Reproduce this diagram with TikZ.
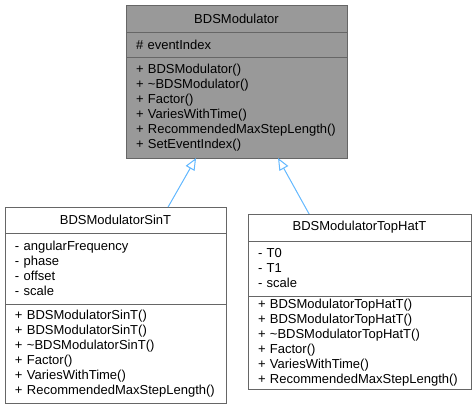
\documentclass[tikz,border=0pt]{standalone}
\usepackage{fontspec}
\setmainfont{Liberation Sans}
\usetikzlibrary{positioning,calc,arrows.meta}
\definecolor{edgegray}{HTML}{666666}
\definecolor{basefill}{HTML}{999999}
\definecolor{inheritblue}{HTML}{63B8FF}
\tikzset{
  classpart/.style={draw=edgegray, line width=1pt, outer sep=0pt,
    inner xsep=10pt, inner ysep=0pt, text width=#1, align=left,
    font=\fontsize{13}{15}\selectfont},
  classname/.style={classpart=#1, align=center},
  inherit/.style={draw=inheritblue, line width=1pt,
    -{Triangle[open, length=12pt, width=10pt]}}
}

\begin{document}
\begin{tikzpicture}[x=1pt,y=-1pt]
\useasboundingbox (0,0) rectangle (475,410);

% Base class
\node[classname=201pt,
    fill=basefill,
    anchor=north west,
    minimum height=27pt] (mod) at (126,5) {BDSModulator};
\node[classpart=201pt,
    fill=basefill,
    below=0pt of mod,
    minimum height=25pt] (mod-attr) {\# eventIndex};
\node[classpart=201pt,
    fill=basefill,
    below=0pt of mod-attr,
    minimum height=101pt] (mod-ops) {+ BDSModulator()\\
    + \textasciitilde BDSModulator()\\
    + Factor()\\
    + VariesWithTime()\\
    + RecommendedMaxStepLength()\\
    + SetEventIndex()};

% Sine modulator
\node[classname=201pt,
    anchor=north west,
    minimum height=26pt] (sint) at (5,207) {BDSModulatorSinT};
\node[classpart=201pt,
    below=0pt of sint,
    minimum height=71pt] (sint-attr) {- angularFrequency\\
    - phase\\
    - offset\\
    - scale};
\node[classpart=201pt,
    below=0pt of sint-attr,
    minimum height=99pt] (sint-ops) {+ BDSModulatorSinT()\\
    + BDSModulatorSinT()\\
    + \textasciitilde BDSModulatorSinT()\\
    + Factor()\\
    + VariesWithTime()\\
    + RecommendedMaxStepLength()};

% Top hat modulator
\node[classname=203pt,
    anchor=north west,
    minimum height=27pt] (tophat) at (248,214) {BDSModulatorTopHatT};
\node[classpart=203pt,
    below=0pt of tophat,
    minimum height=55pt] (tophat-attr) {- T0\\
    - T1\\
    - scale};
\node[classpart=203pt,
    below=0pt of tophat-attr,
    minimum height=93pt] (tophat-ops) {+ BDSModulatorTopHatT()\\
    + BDSModulatorTopHatT()\\
    + \textasciitilde BDSModulatorTopHatT()\\
    + Factor()\\
    + VariesWithTime()\\
    + RecommendedMaxStepLength()};

% Arrows
\draw[inherit] ($(sint.north west)!0.738!(sint.north east)$)
    -- ($(mod-ops.south west)!0.317!(mod-ops.south east)$);
\draw[inherit] ($(tophat.north west)!0.274!(tophat.north east)$)
    -- ($(mod-ops.south west)!0.688!(mod-ops.south east)$);

\end{tikzpicture}
\end{document}
